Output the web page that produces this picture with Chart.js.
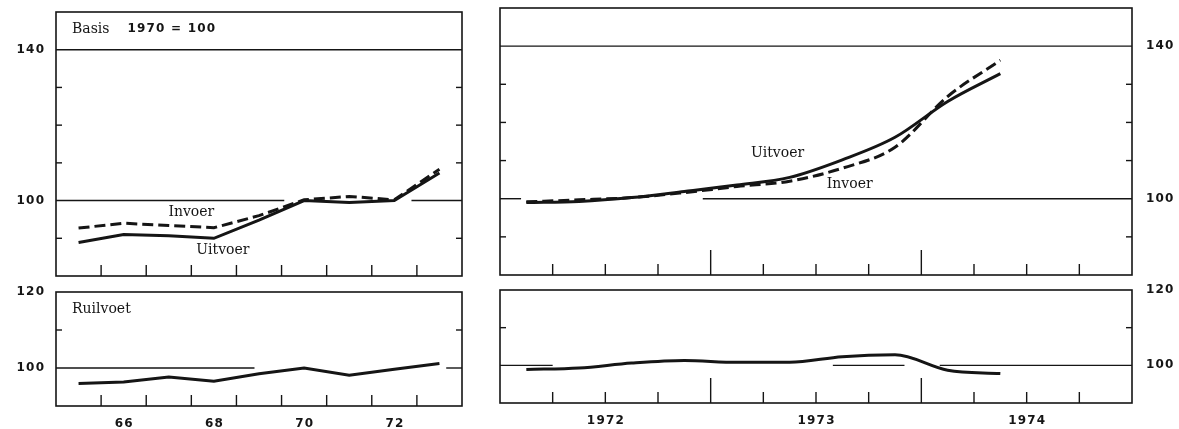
<!DOCTYPE html>
<html>
<head>
<meta charset="utf-8">
<script src="https://cdn.jsdelivr.net/npm/chart.js@4.4.1/dist/chart.umd.min.js"></script>
<style>
  html, body { margin: 0; padding: 0; background: #fff; }
  #wrap { position: relative; width: 1179px; height: 429px; overflow: hidden; background: #fff; }
  canvas { position: absolute; }
</style>
</head>
<body>
<div id="wrap">
  <canvas id="leftTop" width="470" height="282" style="left:0;top:0"></canvas>
  <canvas id="leftBottom" width="470" height="145" style="left:0;top:284px"></canvas>
  <canvas id="rightTop" width="689" height="282" style="left:490px;top:0"></canvas>
  <canvas id="rightBottom" width="689" height="147" style="left:490px;top:282px"></canvas>
</div>
<script>
// yearly figures 1965-1973 (basis 1970 = 100)
const years = ["65", "66", "67", "68", "69", "70", "71", "72", "73"];
const uitvoerYear = [88.9, 91.0, 90.7, 90.0, 94.8, 100.0, 99.5, 100.0, 107.3];
const invoerYear = [92.7, 94.0, 93.4, 92.8, 96.0, 100.2, 101.1, 100.2, 108.3];
const ruilvoetYear = [95.9, 96.3, 97.6, 96.5, 98.5, 100.0, 98.1, 99.7, 101.2];
const labelledYears = ["66", "68", "70", "72"];

// quarterly figures 1972-1974
const quarters = ["1972 I", "1972 II", "1972 III", "1972 IV", "1973 I", "1973 II",
  "1973 III", "1973 IV", "1974 I", "1974 II"];
const uitvoerQtr = [99.0, 99.3, 100.3, 101.9, 103.6, 105.6, 110.2, 116.1, 125.5, 132.8];
const invoerQtr = [99.2, 99.7, 100.3, 101.6, 103.2, 104.6, 108.0, 113.5, 126.8, 136.3];
const ruilvoetQtr = [98.9, 99.3, 100.6, 101.3, 100.8, 100.8, 102.3, 102.8, 98.7, 97.8];
const qtrYears = ["1972", "1973", "1974"];

const topLabels = [100, 140];
const bottomLabels = [100, 120];

const ink = "#151515";
const tickFont = { family: "DejaVu Sans", size: 12, weight: "bold" };
const serif = "14px 'DejaVu Serif'";

// wide-set figures like the print
const spaced = (s) => String(s).split("").join("\u200A");

// no extra room for half labels: the boxes are placed by hand
const noPad = (s) => {
  s.paddingTop = 0;
  s.paddingBottom = 0;
  s.paddingLeft = 0;
  s.paddingRight = 0;
};

// box, reference lines, inward tick marks and text notes
const framePlugin = {
  id: "frame",
  beforeDatasetsDraw(chart, args, opts) {
    const { ctx, chartArea: a, scales } = chart;
    const line = (x1, y1, x2, y2) => {
      ctx.beginPath();
      ctx.moveTo(x1, y1);
      ctx.lineTo(x2, y2);
      ctx.stroke();
    };
    ctx.save();
    ctx.strokeStyle = ink;
    ctx.lineWidth = 1.6;
    ctx.strokeRect(a.left, a.top, a.right - a.left, a.bottom - a.top);
    ctx.lineWidth = 1.4;
    // the 100 / 140 rules are printed in pieces where the curves run on them
    for (const r of opts.rules) {
      const y = scales.y.getPixelForValue(r.y);
      for (const [from, to] of r.spans || [[null, null]]) {
        const x1 = from === null ? a.left : scales.x.getPixelForValue(from);
        const x2 = to === null ? a.right : scales.x.getPixelForValue(to);
        line(x1, y, x2, y);
      }
    }
    for (const v of opts.yMarks) {
      const y = scales.y.getPixelForValue(v);
      line(a.left, y, a.left + 6, y);
      line(a.right - 6, y, a.right, y);
    }
    for (const m of opts.xMarks) {
      const x = scales.x.getPixelForValue(m.at);
      line(x, a.bottom, x, a.bottom - m.len);
    }
    ctx.restore();
  },
  afterDatasetsDraw(chart, args, opts) {
    const { ctx, chartArea: a, scales } = chart;
    ctx.save();
    ctx.fillStyle = ink;
    ctx.textBaseline = "middle";
    if (opts.title) {
      let x = a.left + 16;
      for (const part of opts.title) {
        ctx.font = part.font;
        ctx.fillText(part.text, x, a.top + 17);
        x += ctx.measureText(part.text).width + (part.gap || 0);
      }
    }
    ctx.textAlign = "center";
    ctx.font = serif;
    for (const n of opts.notes || []) {
      ctx.fillText(n.text, scales.x.getPixelForValue(n.x), scales.y.getPixelForValue(n.y));
    }
    ctx.restore();
  },
};

const lineSet = (label, data, dashed, smooth) => ({
  label,
  data,
  borderColor: ink,
  borderWidth: 3,
  borderDash: dashed ? [11, 5] : [],
  borderCapStyle: "butt",
  pointRadius: 0,
  tension: 0,
  cubicInterpolationMode: smooth ? "monotone" : "default",
});

const yAxis = (min, max, shown, side, width, pad) => ({
  position: side,
  min,
  max,
  afterFit: (s) => { s.width = width; noPad(s); },
  border: { display: false },
  grid: { display: false, drawTicks: false },
  ticks: {
    stepSize: 10,
    padding: pad,
    color: ink,
    font: tickFont,
    callback: (v) => (shown.includes(v) ? spaced(v) : ""),
  },
});

const yearAxis = (show, height) => ({
  type: "category",
  offset: true,
  display: show,
  afterFit: (s) => { s.height = height; noPad(s); },
  border: { display: false },
  grid: { display: false },
  ticks: {
    autoSkip: false,
    maxRotation: 0,
    padding: 3,
    color: ink,
    font: tickFont,
    callback: (v, i) => (labelledYears.includes(years[i]) ? spaced(years[i]) : ""),
  },
});

const qtrAxis = (show, height) => ({
  type: "linear",
  min: 0,
  max: 12,
  display: show,
  afterFit: (s) => { s.height = height; noPad(s); },
  border: { display: false },
  grid: { display: false },
  ticks: {
    stepSize: 1,
    autoSkip: false,
    maxRotation: 0,
    padding: 3,
    color: ink,
    font: tickFont,
    callback: (v) => (v % 4 === 2 ? spaced(qtrYears[(v - 2) / 4]) : ""),
  },
});

const yearMarks = years.slice(1).map((y, i) => ({ at: i + 0.5, len: 11 }));
const qtrMarks = Array.from({ length: 11 }, (_, i) => ({ at: i + 1, len: (i + 1) % 4 === 0 ? 25 : 11 }));
const qtrPoints = (vals) => vals.map((v, i) => ({ x: i + 0.5, y: v }));

const baseOptions = (padding, scales, frame) => ({
  responsive: false,
  animation: false,
  devicePixelRatio: 1,
  layout: { padding },
  plugins: { legend: { display: false }, tooltip: { enabled: false }, frame },
  scales,
});

new Chart(document.getElementById("leftTop"), {
  type: "line",
  data: {
    labels: years,
    datasets: [lineSet("Uitvoer", uitvoerYear, false), lineSet("Invoer", invoerYear, true)],
  },
  options: baseOptions(
    { top: 12, right: 8, bottom: 6, left: 0 },
    { x: yearAxis(false, 0), y: yAxis(80, 150, topLabels, "left", 56, 12) },
    {
      rules: [{ y: 140 }, { y: 100, spans: [[null, 4.56], [7.38, null]] }],
      yMarks: [90, 110, 120, 130],
      xMarks: yearMarks,
      title: [
        { text: "Basis", font: serif, gap: 18 },
        { text: spaced("1970") + " \u2009=\u2009 " + spaced("100"), font: "bold 12px 'DejaVu Sans'" },
      ],
      notes: [
        { text: "Invoer", x: 2.5, y: 96.8 },
        { text: "Uitvoer", x: 3.2, y: 86.8 },
      ],
    }
  ),
  plugins: [framePlugin],
});

new Chart(document.getElementById("leftBottom"), {
  type: "line",
  data: { labels: years, datasets: [lineSet("Ruilvoet", ruilvoetYear, false)] },
  options: baseOptions(
    { top: 8, right: 8, bottom: 0, left: 0 },
    { x: yearAxis(true, 23), y: yAxis(90, 120, bottomLabels, "left", 56, 12) },
    {
      rules: [{ y: 100, spans: [[null, 3.9], [8.15, null]] }],
      yMarks: [110],
      xMarks: yearMarks,
      title: [{ text: "Ruilvoet", font: serif }],
    }
  ),
  plugins: [framePlugin],
});

new Chart(document.getElementById("rightTop"), {
  type: "line",
  data: {
    datasets: [
      lineSet("Uitvoer", qtrPoints(uitvoerQtr), false, true),
      lineSet("Invoer", qtrPoints(invoerQtr), true, true),
    ],
  },
  options: baseOptions(
    { top: 8, right: 0, bottom: 7, left: 10 },
    { x: qtrAxis(false, 0), y: yAxis(80, 150, topLabels, "right", 47, 14) },
    {
      rules: [{ y: 140 }, { y: 100, spans: [[null, 0.4], [3.85, null]] }],
      yMarks: [90, 110, 120, 130],
      xMarks: qtrMarks,
      notes: [
        { text: "Uitvoer", x: 5.27, y: 111.8 },
        { text: "Invoer", x: 6.64, y: 103.7 },
      ],
    }
  ),
  plugins: [framePlugin],
});

new Chart(document.getElementById("rightBottom"), {
  type: "line",
  data: { datasets: [lineSet("Ruilvoet", qtrPoints(ruilvoetQtr), false, true)] },
  options: baseOptions(
    { top: 8, right: 0, bottom: 0, left: 10 },
    { x: qtrAxis(true, 26), y: yAxis(90, 120, bottomLabels, "right", 47, 14) },
    {
      rules: [{ y: 100, spans: [[null, 1.0], [6.32, 7.68], [8.35, null]] }],
      yMarks: [110],
      xMarks: qtrMarks,
    },
  ),
  plugins: [framePlugin],
});
</script>
</body>
</html>
